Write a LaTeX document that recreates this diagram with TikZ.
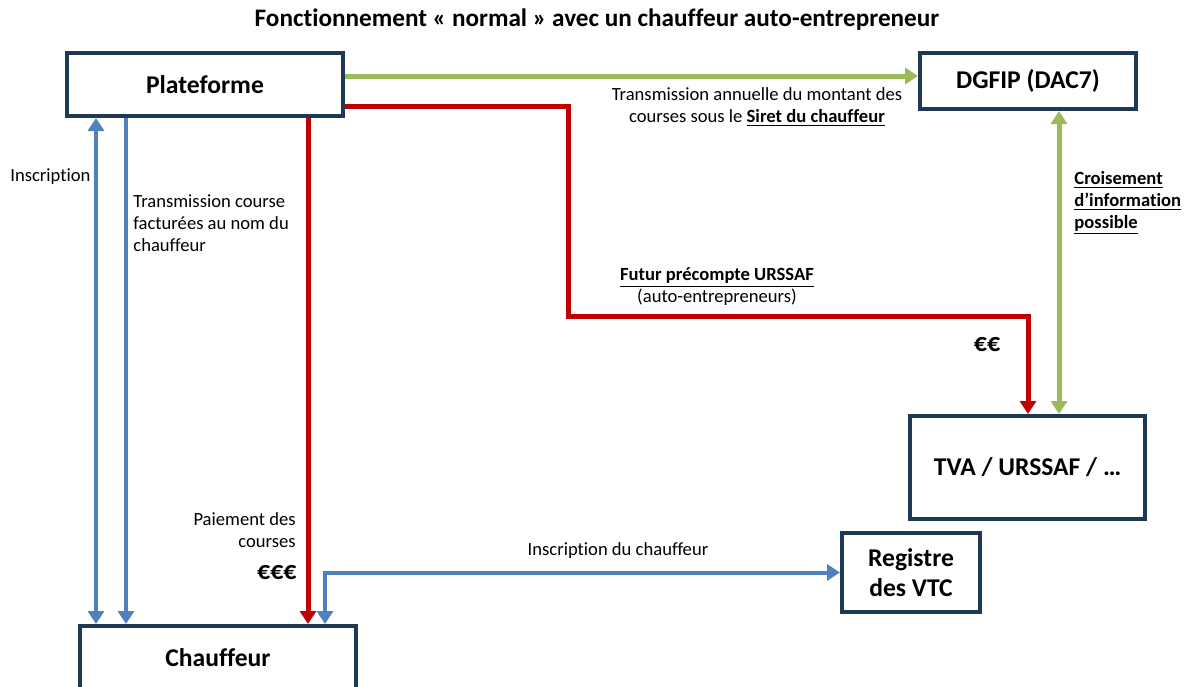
\documentclass[tikz,border=0pt]{standalone}
\usepackage{fontspec}
\setmainfont{Carlito}[Ligatures=NoCommon]
\usepackage{xcolor}
\usetikzlibrary{arrows.meta}

\definecolor{boxnavy}{RGB}{31,56,86}
\definecolor{flowblue}{RGB}{79,129,189}
\definecolor{flowred}{RGB}{192,0,0}
\definecolor{flowgreen}{RGB}{155,187,89}

\begin{document}
\begin{tikzpicture}[x=0.5pt, y=-0.5pt,
    >={Triangle[width=8pt,length=6.5pt]},
    actor/.style={draw=boxnavy, line width=2pt, fill=white, rectangle, align=center,
        font=\fontsize{12.8}{15}\selectfont\bfseries},
    note/.style={font=\fontsize{9.3}{11}\selectfont, inner sep=0pt},
    money/.style={font=\fontsize{13}{15}\selectfont\bfseries, inner sep=0pt},
    blueflow/.style={draw=flowblue, line width=2pt},
    redflow/.style={draw=flowred, line width=2.5pt},
    greenflow/.style={draw=flowgreen, line width=2.5pt}]
    \useasboundingbox (0,0) rectangle (1194,686);
    \clip (0,0) rectangle (1194,686);

    % Title
    \node[font=\fontsize{12.6}{15}\selectfont\bfseries, inner sep=0pt] (title) at (597,20)
        {Fonctionnement « normal » avec un chauffeur auto-entrepreneur};

    % Boxes
    \node[actor, minimum width=138pt, minimum height=31.5pt] (plat) at (205,84.5) {Plateforme};
    \node[actor, minimum width=108pt, minimum height=28pt] (dgfip) at (1028,81) {DGFIP (DAC7)};
    \node[actor, minimum width=117.5pt, minimum height=51.5pt] (tva) at (1027.5,467.5) {TVA / URSSAF / …};
    \node[actor, minimum width=69pt, minimum height=39.5pt, inner sep=2pt] (reg) at (911,572.5) {Registre\\des VTC};
    \node[actor, minimum width=138pt, minimum height=32pt] (chauf) at (218,658) {Chauffeur};

    % Guide coordinates for the connectors
    \coordinate (xins) at (96,0);
    \coordinate (xcourse) at (126,0);
    \coordinate (xpay) at (308,0);
    \coordinate (xvtc) at (325,0);
    \coordinate (ydac) at (0,76);
    \coordinate (rtop) at (568,106);
    \coordinate (rbot) at (1028,316);
    \coordinate (xcross) at (1059,0);

    % Connections
    \draw[blueflow, <->] (plat.south -| xins) -- (chauf.north -| xins);
    \draw[blueflow, ->] (plat.south -| xcourse) -- (chauf.north -| xcourse);
    \draw[redflow, ->] (plat.south -| xpay) -- (chauf.north -| xpay);
    \draw[blueflow, <->] (chauf.north -| xvtc) |- (reg.west);
    \draw[greenflow, ->] (plat.east |- ydac) -- (dgfip.west |- ydac);
    \draw[redflow, ->] (plat.east |- rtop) -- (rtop) |- (rbot) -- (tva.north -| rbot);
    \draw[greenflow, <->] (dgfip.south -| xcross) -- (tva.north -| xcross);

    % Labels
    \node[note, anchor=west] (lins) at (10,177) {Inscription};
    \node[note, anchor=west, align=left] (lcourse) at (133,223)
        {Transmission course\\facturées au nom du\\chauffeur};
    \node[note, anchor=east, align=right] (lpay) at (296,530) {Paiement des\\courses};
    \node[money, anchor=east] (lpayeur) at (297,573) {€€€};
    \node[note] (lvtc) at (618,551) {Inscription du chauffeur};
    \node[note, align=center] (ldac) at (757,107)
        {Transmission annuelle du montant des\\courses sous le \underline{\textbf{Siret du chauffeur}}};
    \node[note, align=center] (lurssaf) at (717,287)
        {\underline{\textbf{Futur précompte URSSAF}}\\(auto-entrepreneurs)};
    \node[money] (lurseur) at (987,345) {€€};
    \node[note, anchor=west, align=left, font=\fontsize{9.3}{11}\selectfont\bfseries] (lcross) at (1074,203)
        {\underline{Croisement}\\\underline{d’information}\\\underline{possible}};
\end{tikzpicture}
\end{document}
